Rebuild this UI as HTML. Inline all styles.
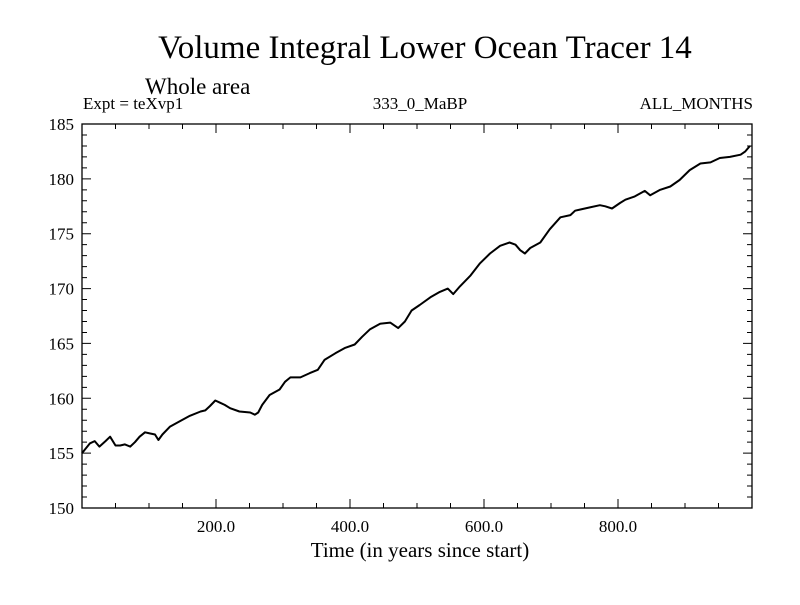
<!DOCTYPE html>
<html><head><meta charset="utf-8"><style>body{margin:0;background:#fff}svg text{font-family:"Liberation Serif",serif;fill:#000}</style></head>
<body>
<svg width="800" height="600">
<text x="425" y="58" font-size="33" text-anchor="middle">Volume Integral Lower Ocean Tracer 14</text>
<text x="145" y="94" font-size="23">Whole area</text>
<text x="83" y="109" font-size="17">Expt = teXvp1</text>
<text x="420" y="109" font-size="17" text-anchor="middle">333_0_MaBP</text>
<text x="753" y="109" font-size="17" text-anchor="end">ALL_MONTHS</text>
<text x="420" y="557" font-size="21" text-anchor="middle">Time (in years since start)</text>
<g id="axes"></g>
<path id="line" fill="none" stroke="#000" stroke-width="2" stroke-linejoin="round"/>
</svg>
<script>
const years=[0,12,19,26,35,42,50,57,64,72,79,86,94,101,109,114,120,131,146,161,177,184,191,199,206,213,221,235,251,258,263,269,280,295,303,311,326,340,352,362,378,393,407,418,430,445,460,472,482,492,504,520,534,546,554,564,580,594,609,624,638,647,654,661,669,684,698,714,729,736,743,758,773,781,791,803,811,825,840,848,863,878,892,907,923,938,952,967,983,990,997];
const values=[155.0,155.9,156.1,155.6,156.1,156.5,155.7,155.7,155.8,155.6,156.0,156.5,156.9,156.8,156.7,156.2,156.7,157.4,157.9,158.4,158.8,158.9,159.3,159.8,159.6,159.4,159.1,158.8,158.7,158.5,158.7,159.4,160.3,160.8,161.5,161.9,161.9,162.3,162.6,163.5,164.1,164.6,164.9,165.6,166.3,166.8,166.9,166.4,167.0,168.0,168.5,169.2,169.7,170.0,169.5,170.2,171.2,172.3,173.2,173.9,174.2,174.0,173.5,173.2,173.7,174.2,175.4,176.5,176.7,177.1,177.2,177.4,177.6,177.5,177.3,177.8,178.1,178.4,178.9,178.5,179.0,179.3,179.9,180.8,181.4,181.5,181.9,182.0,182.2,182.5,183.0];
const xTicks=[200,400,600,800];
const xTickLabels=["200.0","400.0","600.0","800.0"];
const yTicks=[150,155,160,165,170,175,180,185];
const L=82,R=752,T=124,B=508;
const sx=v=>L+(v-0)/(1000-0)*(R-L);
const sy=v=>B-(v-150)/(185-150)*(B-T);
const NS="http://www.w3.org/2000/svg";
const ax=document.getElementById('axes');
function mk(tag,attrs,txt){const e=document.createElementNS(NS,tag);for(const k in attrs)e.setAttribute(k,attrs[k]);if(txt!==undefined)e.textContent=txt;ax.appendChild(e);return e;}
const fr=mk('rect',{x:L,y:T,width:R-L,height:B-T,fill:'none',stroke:'#000','stroke-width':1.3});


let d='';
for(let v=50;v<1000;v+=50){const x=sx(v);const len=(v%200===0)?9:5;d+=`M${x},${B}v${-len}M${x},${T}v${len}`;}
for(let v=150;v<=185;v+=1){const y=sy(v);const len=(v%5===0)?9:5;d+=`M${L},${y}h${len}M${R},${y}h${-len}`;}
const tp=mk('path',{d:d,stroke:'#000','stroke-width':1,fill:'none'});


xTicks.forEach((v,i)=>{const t=mk('text',{x:sx(v),y:B+24,'font-size':17,'text-anchor':'middle'},xTickLabels[i]);

});
yTicks.forEach(v=>{const t=mk('text',{x:L-8,y:sy(v)+6,'font-size':17,'text-anchor':'end'},String(v));

});
document.getElementById('line').setAttribute('d',years.map((y,i)=>(i?'L':'M')+sx(y).toFixed(1)+','+sy(values[i]).toFixed(1)).join(''));
</script>
</body></html>
